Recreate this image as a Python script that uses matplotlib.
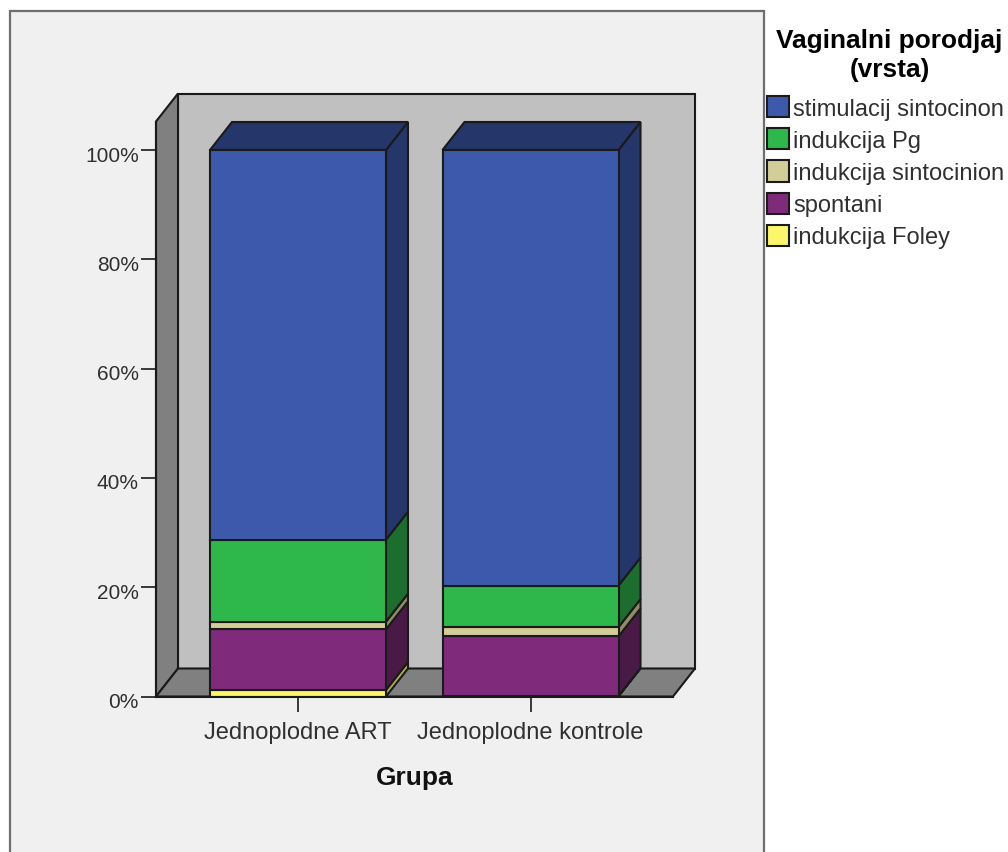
"""
python plot.py -> out.png
100% stacked 3D-look bars, vaginal delivery type by group.
"""
import matplotlib
matplotlib.use("Agg")
import matplotlib.pyplot as plt
from matplotlib.patches import Patch, Rectangle
from matplotlib.transforms import ScaledTranslation

plt.rcParams["font.family"] = ["Liberation Sans", "DejaVu Sans"]

groups = ["Jednoplodne ART", "Jednoplodne kontrole"]
# bottom to top
kinds = ["indukcija Foley", "spontani", "indukcija sintocinion", "indukcija Pg", "stimulacij sintocinon"]
foley = [1.2, 0.1]
spontani = [11.1, 10.9]
sintocinion = [1.4, 1.7]
pg = [15.0, 7.6]
stimulacija = [71.3, 79.7]
yticks = [0, 20, 40, 60, 80, 100]

face = ["#fbf66a", "#7f2a7b", "#d3ce97", "#2eb84b", "#3d59ab"]
side = ["#b0ac4a", "#4a1a47", "#8f8c66", "#1b6e2e", "#25366b"]
EDGE = "#1a1a1a"
TEXT = "#303030"
LW = 1.5

W, H = 1008, 853
fig = plt.figure(figsize=(W / 100, H / 100), dpi=100, facecolor="white")

# panel, runs off the bottom of the picture
fig.add_artist(Rectangle((10 / W, -0.05), 754 / W, 1.05 - 12 / H, transform=fig.transFigure,
                         facecolor="#f0f0f0", edgecolor="#6e6e6e", linewidth=1.6, zorder=-1))

# axes = front plane of the 3D box (pixels 156..673, 697..122)
ax = fig.add_axes([156 / W, 1 - 697.5 / H, 517 / W, 575 / H], facecolor="none")
bar_w = 176 / 232.5
dx, dy = 22 / 232.5, 28 / 5.465
ax.set_xlim((156 - 298) / 232.5, (673 - 298) / 232.5)
ax.set_ylim(0, 575 / 5.465)
x0, x1 = ax.get_xlim()
y1 = ax.get_ylim()[1]

box = dict(edgecolor=EDGE, linewidth=LW, clip_on=False)
ax.fill([x0 + dx, x1 + dx, x1 + dx, x0 + dx], [dy, dy, y1 + dy, y1 + dy], facecolor="#c0c0c0", zorder=1, **box)
ax.fill([x0, x0 + dx, x0 + dx, x0], [0, dy, y1 + dy, y1], facecolor="#808080", zorder=1, **box)
ax.fill([x0, x1, x1 + dx, x0 + dx], [0, 0, dy, dy], facecolor="#808080", zorder=1, **box)

series = [foley, spontani, sintocinion, pg, stimulacija]
bottom = [0.0, 0.0]
for vals, fc, sc in zip(series, face, side):
    for i, v in enumerate(vals):
        left = i - bar_w / 2
        right = i + bar_w / 2
        b = bottom[i]
        ax.bar(i, v, bar_w, bottom=b, color=fc, edgecolor=EDGE, linewidth=LW, zorder=3)
        ax.fill([right, right + dx, right + dx, right], [b, b + dy, b + v + dy, b + v],
                facecolor=sc, zorder=2, **box)
        if fc == face[-1]:
            ax.fill([left, right, right + dx, left + dx], [b + v, b + v, b + v + dy, b + v + dy],
                    facecolor=sc, zorder=2, **box)
        bottom[i] = b + v

for s in ["top", "right"]:
    ax.spines[s].set_visible(False)
for s in ["left", "bottom"]:
    ax.spines[s].set_color(EDGE)
    ax.spines[s].set_linewidth(LW)
    ax.spines[s].set_zorder(4)

ax.set_yticks(yticks, [f"{t}%" for t in yticks])
ax.set_xticks([0, 1], groups)
ax.tick_params(axis="both", length=10.5, width=1.2, color=EDGE, labelcolor=TEXT)
ax.tick_params(axis="y", labelsize=15, pad=2)
ax.tick_params(axis="x", labelsize=17, pad=7)
# y labels sit a little under their ticks in the original
for lab in ax.get_yticklabels():
    lab.set_transform(lab.get_transform() + ScaledTranslation(0, -3 / 100, fig.dpi_scale_trans))
ax.set_xlabel("Grupa", fontsize=19, fontweight="bold", color="#111111", labelpad=16)

# legend lists top segment first
handles = [Patch(facecolor=f, edgecolor=EDGE, linewidth=LW) for f in face[::-1]]
leg = fig.legend(handles, kinds[::-1], title="Vaginalni porodjaj\n(vrsta)", frameon=False,
                 loc="upper left", bbox_to_anchor=(767 / W, 1 - 29 / H), borderaxespad=0, borderpad=0,
                 fontsize=17, handlelength=0.95, handleheight=1.0, handletextpad=0.15,
                 labelspacing=0.36, labelcolor=TEXT, alignment="center",
                 title_fontproperties=dict(size=18.9, weight="bold"))
leg.get_title().set_multialignment("center")
leg.get_title().set_linespacing(1.24)
leg.get_title().set_position((4, 0))
leg._legend_box.sep = 11.2

fig.savefig("out.png", dpi=100, facecolor="white")
